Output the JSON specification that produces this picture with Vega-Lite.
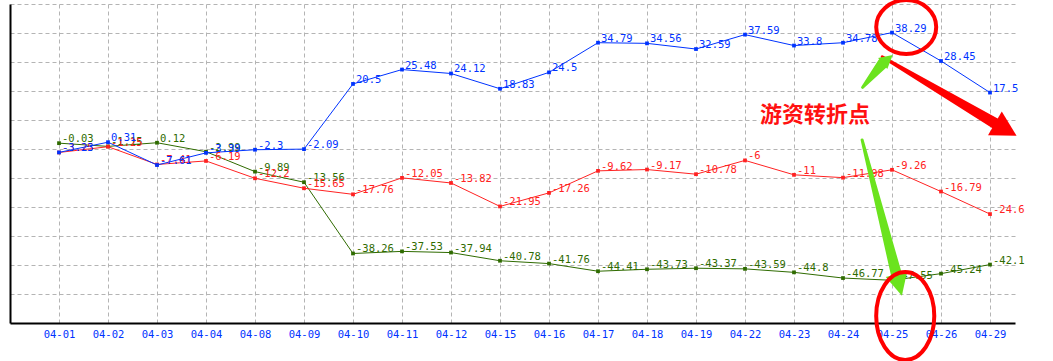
{
  "$schema": "https://vega.github.io/schema/vega-lite/v6.json",
  "width": 1005,
  "height": 319,
  "autosize": {"type": "none"},
  "padding": {"left": 10, "top": 4, "right": 38, "bottom": 38},
  "background": "white",
  "config": {"view": {"stroke": null}},
  "datasets": {
    "series": [
      {"d": "04-01", "s": "green", "v": -0.03}, {"d": "04-02", "s": "green", "v": -1.15}, {"d": "04-03", "s": "green", "v": 0.12}, {"d": "04-04", "s": "green", "v": -2.99}, {"d": "04-08", "s": "green", "v": -9.89}, {"d": "04-09", "s": "green", "v": -13.56}, {"d": "04-10", "s": "green", "v": -38.26}, {"d": "04-11", "s": "green", "v": -37.53}, {"d": "04-12", "s": "green", "v": -37.94}, {"d": "04-15", "s": "green", "v": -40.78}, {"d": "04-16", "s": "green", "v": -41.76}, {"d": "04-17", "s": "green", "v": -44.41}, {"d": "04-18", "s": "green", "v": -43.73}, {"d": "04-19", "s": "green", "v": -43.37}, {"d": "04-22", "s": "green", "v": -43.59}, {"d": "04-23", "s": "green", "v": -44.8}, {"d": "04-24", "s": "green", "v": -46.77}, {"d": "04-25", "s": "green", "v": -47.55}, {"d": "04-26", "s": "green", "v": -45.24}, {"d": "04-29", "s": "green", "v": -42.1},
      {"d": "04-01", "s": "red", "v": -3.25}, {"d": "04-02", "s": "red", "v": -1.25}, {"d": "04-03", "s": "red", "v": -7.41}, {"d": "04-04", "s": "red", "v": -6.19}, {"d": "04-08", "s": "red", "v": -12.2}, {"d": "04-09", "s": "red", "v": -15.65}, {"d": "04-10", "s": "red", "v": -17.76}, {"d": "04-11", "s": "red", "v": -12.05}, {"d": "04-12", "s": "red", "v": -13.82}, {"d": "04-15", "s": "red", "v": -21.95}, {"d": "04-16", "s": "red", "v": -17.26}, {"d": "04-17", "s": "red", "v": -9.62}, {"d": "04-18", "s": "red", "v": -9.17}, {"d": "04-19", "s": "red", "v": -10.78}, {"d": "04-22", "s": "red", "v": -6}, {"d": "04-23", "s": "red", "v": -11}, {"d": "04-24", "s": "red", "v": -11.98}, {"d": "04-25", "s": "red", "v": -9.26}, {"d": "04-26", "s": "red", "v": -16.79}, {"d": "04-29", "s": "red", "v": -24.6},
      {"d": "04-01", "s": "blue", "v": -3.23}, {"d": "04-02", "s": "blue", "v": 0.31}, {"d": "04-03", "s": "blue", "v": -7.61}, {"d": "04-04", "s": "blue", "v": -3.39}, {"d": "04-08", "s": "blue", "v": -2.3}, {"d": "04-09", "s": "blue", "v": -2.09}, {"d": "04-10", "s": "blue", "v": 20.5}, {"d": "04-11", "s": "blue", "v": 25.48}, {"d": "04-12", "s": "blue", "v": 24.12}, {"d": "04-15", "s": "blue", "v": 18.83}, {"d": "04-16", "s": "blue", "v": 24.5}, {"d": "04-17", "s": "blue", "v": 34.79}, {"d": "04-18", "s": "blue", "v": 34.56}, {"d": "04-19", "s": "blue", "v": 32.59}, {"d": "04-22", "s": "blue", "v": 37.59}, {"d": "04-23", "s": "blue", "v": 33.8}, {"d": "04-24", "s": "blue", "v": 34.78}, {"d": "04-25", "s": "blue", "v": 38.29}, {"d": "04-26", "s": "blue", "v": 28.45}, {"d": "04-29", "s": "blue", "v": 17.5}
    ],
    "ann": [
      {"id": "red", "k": 0, "i": 16.80, "v": 29.9},
      {"id": "red", "k": 1, "i": 19.10, "v": 6.86},
      {"id": "redHead", "i": 19.10, "v": 6.86},
      {"id": "g1", "k": 0, "i": 16.40, "v": 19.3},
      {"id": "g1", "k": 1, "i": 16.81, "v": 27.6},
      {"id": "g1Head", "i": 16.81, "v": 27.6},
      {"id": "g2", "k": 0, "i": 16.39, "v": 1.1},
      {"id": "g2", "k": 1, "i": 17.09, "v": -45.5},
      {"id": "g2Head", "i": 17.09, "v": -45.5},
      {"id": "e1", "i": 17.29, "v": 40.23},
      {"id": "e2", "i": 17.27, "v": -59.9},
      {"id": "txt", "i": 15.43, "v": 9.9, "t": "游资转折点"}
    ]
  },
  "layer": [
    {
      "data": {"name": "series"},
      "encoding": {
        "x": {"field": "d", "type": "ordinal", "sort": null,
          "scale": {"type": "point", "padding": 0.7551, "align": 0.6622},
          "axis": {"title": null, "grid": true, "gridDash": [4, 3], "gridColor": "#b4b4b4", "gridWidth": 1, "ticks": false, "domainColor": "#000000", "domainWidth": 2, "labelColor": "#0033ff", "labelFont": "DejaVu Sans Mono", "labelFontSize": 10.5, "labelPadding": 6, "labelAngle": 0}},
        "y": {"field": "v", "type": "quantitative",
          "scale": {"domain": [-62.35, 48.2], "nice": false, "zero": false},
          "axis": {"title": null, "values": [48.2, 38.15, 28.1, 18.05, 8.0, -2.05, -12.1, -22.15, -32.2, -42.25, -52.3], "tickCount": 20, "labels": false, "ticks": false, "grid": true, "gridDash": [4, 3], "gridColor": "#b4b4b4", "gridWidth": 1, "domainColor": "#000000", "domainWidth": 2}},
        "color": {"field": "s", "type": "nominal", "scale": {"domain": ["blue", "red", "green"], "range": ["#0033ff", "#ff2222", "#2f6b00"]}, "legend": null}
      },
      "layer": [
        {"mark": {"type": "line", "strokeWidth": 1}},
        {"mark": {"type": "point", "shape": "square", "filled": true, "size": 14, "opacity": 1}},
        {"mark": {"type": "text", "align": "left", "baseline": "alphabetic", "dx": 3, "dy": -1, "font": "DejaVu Sans Mono", "fontSize": 10.5},
         "encoding": {"text": {"field": "v", "type": "nominal"}}}
      ]
    },
    {
      "data": {"name": "ann"},
      "transform": [{"filter": "datum.id === 'red'"}],
      "mark": {"type": "trail", "color": "#ff0000"},
      "encoding": {
        "x": {"field": "i", "type": "quantitative", "scale": {"domain": [-1, 19.5102], "nice": false, "zero": false}, "axis": null},
        "y": {"field": "v", "type": "quantitative"},
        "size": {"field": "k", "type": "quantitative", "scale": {"domain": [0, 1], "range": [3, 11]}, "legend": null},
        "order": {"field": "k"}
      }
    },
    {
      "data": {"name": "ann"},
      "transform": [{"filter": "datum.id === 'redHead'"}],
      "mark": {"type": "point", "shape": "M 0 -1 L 0.55 0 L -0.55 0 Z", "filled": true, "color": "#ff0000", "opacity": 1, "size": 2500, "angle": 120},
      "encoding": {
        "x": {"field": "i", "type": "quantitative", "scale": {"domain": [-1, 19.5102], "nice": false, "zero": false}, "axis": null},
        "y": {"field": "v", "type": "quantitative"}
      }
    },
    {
      "data": {"name": "ann"},
      "transform": [{"filter": "datum.id === 'g1'"}],
      "mark": {"type": "trail", "color": "#6be31e"},
      "encoding": {
        "x": {"field": "i", "type": "quantitative", "scale": {"domain": [-1, 19.5102], "nice": false, "zero": false}, "axis": null},
        "y": {"field": "v", "type": "quantitative"},
        "size": {"field": "k", "type": "quantitative", "scale": {"domain": [0, 1], "range": [3, 5]}, "legend": null},
        "order": {"field": "k"}
      }
    },
    {
      "data": {"name": "ann"},
      "transform": [{"filter": "datum.id === 'g1Head'"}],
      "mark": {"type": "point", "shape": "M 0 -1 L 0.55 0 L -0.55 0 Z", "filled": true, "color": "#6be31e", "opacity": 1, "size": 676, "angle": 50},
      "encoding": {
        "x": {"field": "i", "type": "quantitative", "scale": {"domain": [-1, 19.5102], "nice": false, "zero": false}, "axis": null},
        "y": {"field": "v", "type": "quantitative"}
      }
    },
    {
      "data": {"name": "ann"},
      "transform": [{"filter": "datum.id === 'g2'"}],
      "mark": {"type": "trail", "color": "#6be31e"},
      "encoding": {
        "x": {"field": "i", "type": "quantitative", "scale": {"domain": [-1, 19.5102], "nice": false, "zero": false}, "axis": null},
        "y": {"field": "v", "type": "quantitative"},
        "size": {"field": "k", "type": "quantitative", "scale": {"domain": [0, 1], "range": [2.5, 8]}, "legend": null},
        "order": {"field": "k"}
      }
    },
    {
      "data": {"name": "ann"},
      "transform": [{"filter": "datum.id === 'g2Head'"}],
      "mark": {"type": "point", "shape": "M 0 -1 L 0.5 0 L -0.5 0 Z", "filled": true, "color": "#6be31e", "opacity": 1, "size": 1936, "angle": 165.6},
      "encoding": {
        "x": {"field": "i", "type": "quantitative", "scale": {"domain": [-1, 19.5102], "nice": false, "zero": false}, "axis": null},
        "y": {"field": "v", "type": "quantitative"}
      }
    },
    {
      "data": {"name": "ann"},
      "transform": [{"filter": "datum.id === 'e1'"}],
      "mark": {"type": "point", "shape": "M -1 0 A 1 0.9 0 1 0 1 0 A 1 0.9 0 1 0 -1 0 Z", "filled": false, "stroke": "#ff0000", "strokeWidth": 4, "opacity": 1, "size": 3600},
      "encoding": {
        "x": {"field": "i", "type": "quantitative", "scale": {"domain": [-1, 19.5102], "nice": false, "zero": false}, "axis": null},
        "y": {"field": "v", "type": "quantitative"}
      }
    },
    {
      "data": {"name": "ann"},
      "transform": [{"filter": "datum.id === 'e2'"}],
      "mark": {"type": "point", "shape": "M -0.66 0 A 0.66 1 0 1 0 0.66 0 A 0.66 1 0 1 0 -0.66 0 Z", "filled": false, "stroke": "#ff0000", "strokeWidth": 4, "opacity": 1, "size": 7744},
      "encoding": {
        "x": {"field": "i", "type": "quantitative", "scale": {"domain": [-1, 19.5102], "nice": false, "zero": false}, "axis": null},
        "y": {"field": "v", "type": "quantitative"}
      }
    },
    {
      "data": {"name": "ann"},
      "transform": [{"filter": "datum.id === 'txt'"}],
      "mark": {"type": "text", "font": "Noto Sans CJK SC", "fontWeight": "bold", "fontSize": 22, "align": "center", "baseline": "middle", "fill": "#ffffff", "stroke": "#ffffff", "strokeWidth": 5, "strokeJoin": "round"},
      "encoding": {
        "x": {"field": "i", "type": "quantitative", "scale": {"domain": [-1, 19.5102], "nice": false, "zero": false}, "axis": null},
        "y": {"field": "v", "type": "quantitative"},
        "text": {"field": "t"}
      }
    },
    {
      "data": {"name": "ann"},
      "transform": [{"filter": "datum.id === 'txt'"}],
      "mark": {"type": "text", "font": "Noto Sans CJK SC", "fontWeight": "bold", "fontSize": 22, "align": "center", "baseline": "middle", "fill": "#ff1111"},
      "encoding": {
        "x": {"field": "i", "type": "quantitative", "scale": {"domain": [-1, 19.5102], "nice": false, "zero": false}, "axis": null},
        "y": {"field": "v", "type": "quantitative"},
        "text": {"field": "t"}
      }
    }
  ],
  "resolve": {"scale": {"x": "independent"}}
}
